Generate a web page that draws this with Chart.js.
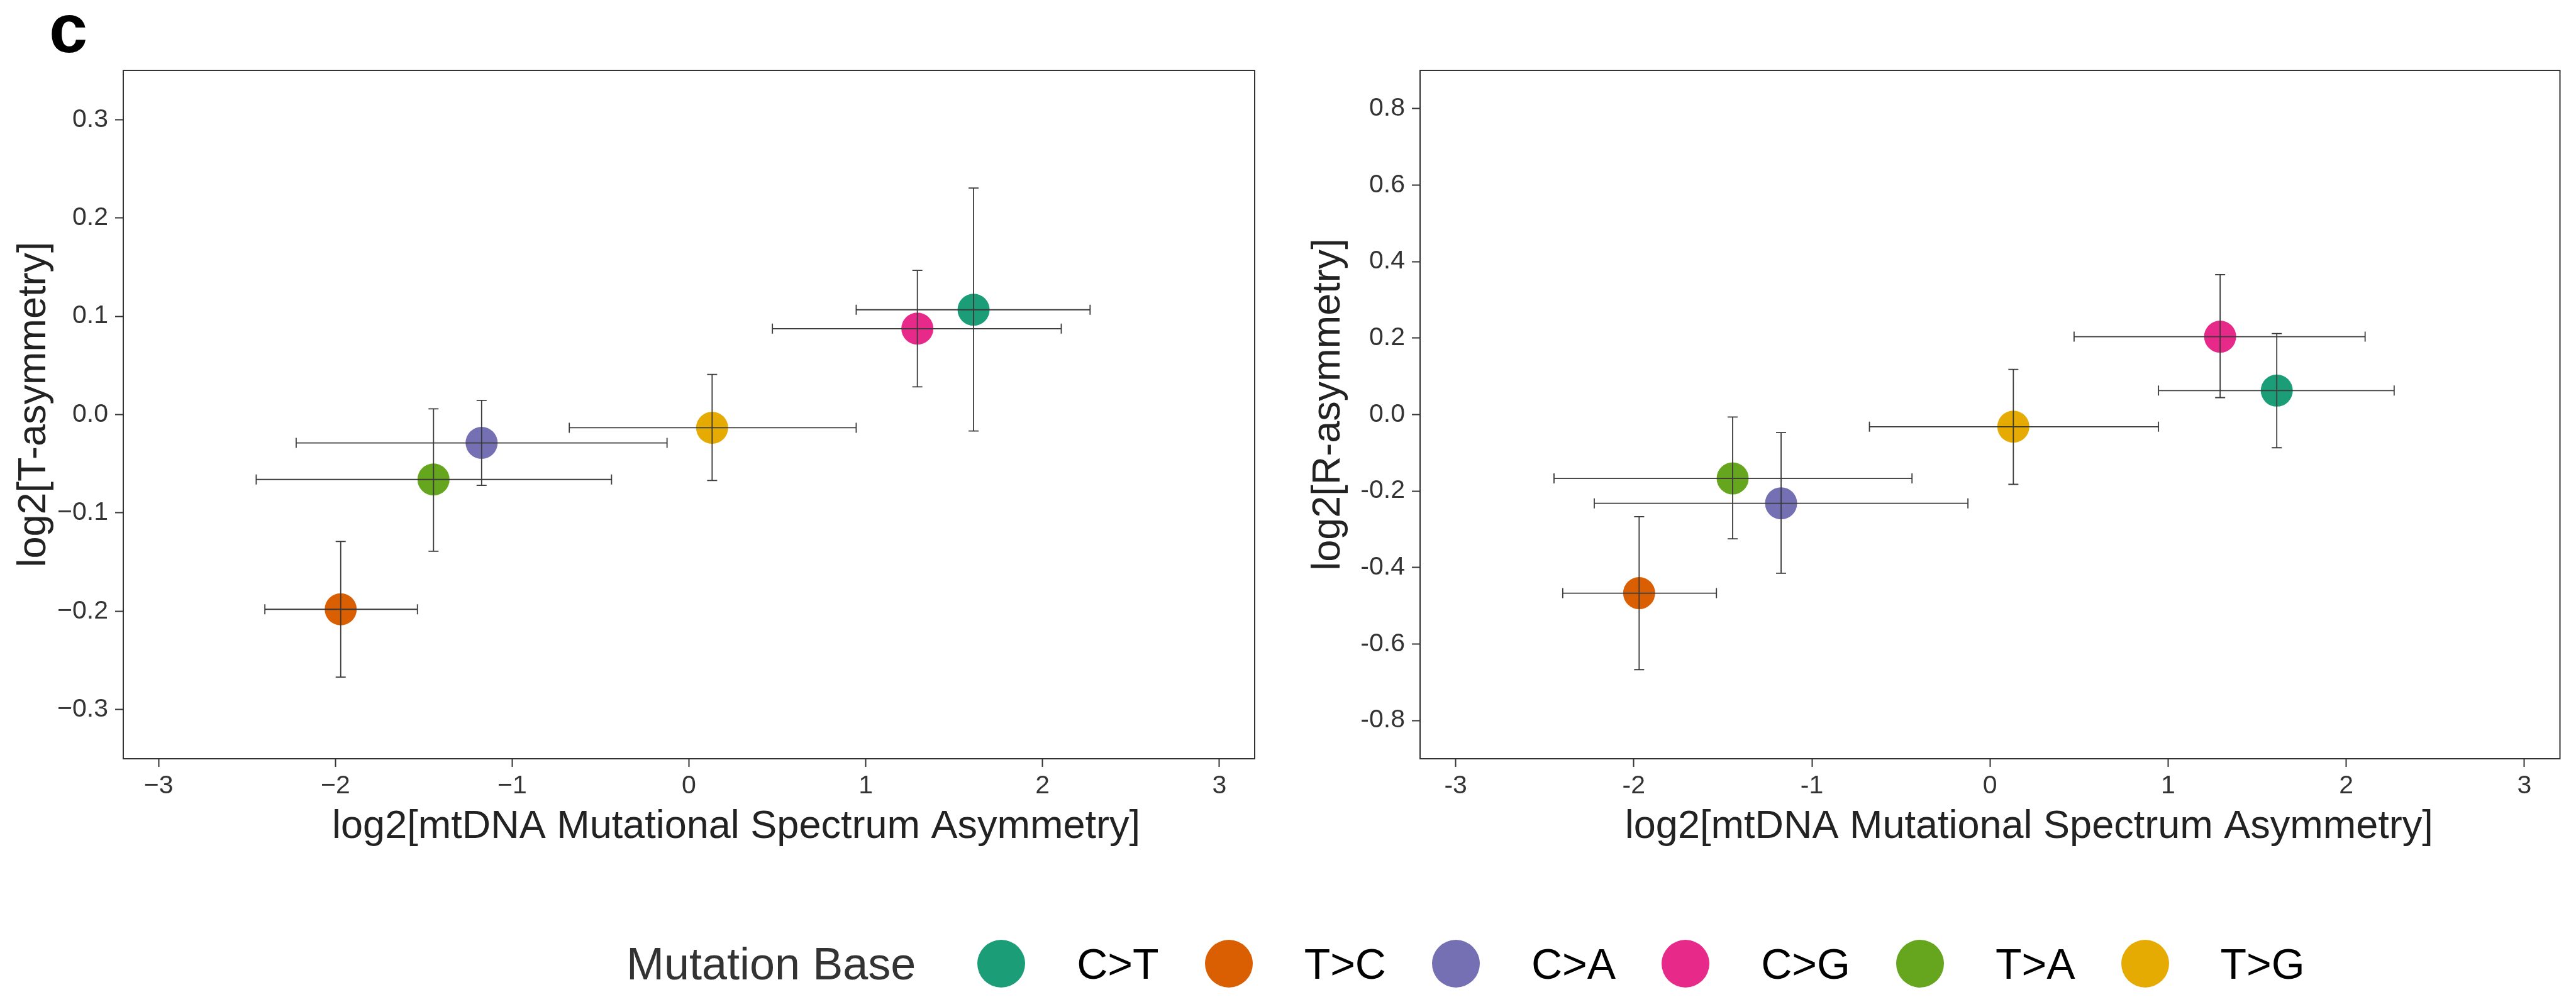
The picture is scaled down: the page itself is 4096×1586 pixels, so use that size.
<!DOCTYPE html>
<html>
<head>
<meta charset="utf-8">
<script src="https://cdn.jsdelivr.net/npm/chart.js@4.4.1/dist/chart.umd.min.js"></script>
<style>
  body { margin: 0; width: 4096px; height: 1586px; background: #fff; position: relative; overflow: hidden;
         font-family: "Liberation Sans", Arial, sans-serif; }
  #tag { position: absolute; left: 78px; top: -10px; font-size: 110px; font-weight: bold; line-height: 1; color: #000; }
  #leftPanel { position: absolute; left: 0; top: 0; }
  #rightPanel { position: absolute; left: 2040px; top: 0; }
  #legend { position: absolute; left: 996px; top: 1493px; height: 80px; display: flex; align-items: center; }
  #legend .title { font-size: 72px; color: #333; margin-right: 98px; white-space: nowrap; }
  #legend .key { width: 76px; height: 76px; border-radius: 50%; margin-right: 82px; flex: none; }
  #legend .lab { font-size: 68px; color: #000; margin-right: 73px; white-space: nowrap; }
</style>
</head>
<body>
<div id="tag">c</div>
<canvas id="leftPanel" width="2030" height="1420"></canvas>
<canvas id="rightPanel" width="2056" height="1420"></canvas>
<div id="legend"></div>

<script>
// mutation types and their colours
var mutTypes = ["C>T", "T>C", "C>A", "C>G", "T>A", "T>G"];
var mutColors = ["#1B9E77", "#D95F02", "#7570B3", "#E7298A", "#66A61E", "#E6AB02"];

// log2 mtDNA mutational spectrum asymmetry (x) with error range
var mtAsym     = [1.610, -1.970, -1.173, 1.292, -1.445, 0.131];
var mtAsymLow  = [0.946, -2.399, -2.222, 0.472, -2.448, -0.677];
var mtAsymHigh = [2.269, -1.536, -0.124, 2.106, -0.438, 0.946];

// log2 T-asymmetry
var tAsym     = [0.1066, -0.1980, -0.0288, 0.0874, -0.0660, -0.0134];
var tAsymLow  = [-0.0167, -0.2670, -0.0720, 0.0282, -0.1390, -0.0671];
var tAsymHigh = [0.2304, -0.1290, 0.0145, 0.1466, 0.0058, 0.0408];

// log2 R-asymmetry
var rAsym     = [0.0627, -0.4670, -0.2320, 0.2037, -0.1670, -0.0317];
var rAsymLow  = [-0.0867, -0.6670, -0.4150, 0.0444, -0.3250, -0.1825];
var rAsymHigh = [0.2120, -0.2670, -0.0470, 0.3660, -0.0063, 0.1180];

// axis ticks
var xTicks = [-3, -2, -1, 0, 1, 2, 3];
var xTickLabelsLeft = ["\u22123", "\u22122", "\u22121", "0", "1", "2", "3"];
var xTickLabelsRight = ["-3", "-2", "-1", "0", "1", "2", "3"];
var tTicks = [-0.3, -0.2, -0.1, 0, 0.1, 0.2, 0.3];
var tTickLabels = ["\u22120.3", "\u22120.2", "\u22120.1", "0.0", "0.1", "0.2", "0.3"];
var rTicks = [-0.8, -0.6, -0.4, -0.2, 0, 0.2, 0.4, 0.6, 0.8];
var rTickLabels = ["-0.8", "-0.6", "-0.4", "-0.2", "0.0", "0.2", "0.4", "0.6", "0.8"];

var xTitle = "log2[mtDNA Mutational Spectrum Asymmetry]";

Chart.defaults.font.family = "'Liberation Sans', Arial, sans-serif";

// draws the error bars, the panel frame and the axis titles
var panelDecor = {
    id: "panelDecor",
    afterDatasetsDraw: function (chart, args, o) {
        var ctx = chart.ctx;
        var xs = chart.scales.x;
        var ys = chart.scales.y;
        var cap = 8;
        ctx.save();
        ctx.strokeStyle = "#3a3a3a";
        ctx.lineWidth = 1.8;
        ctx.beginPath();
        for (var i = 0; i < mtAsym.length; i++) {
            var px = xs.getPixelForValue(mtAsym[i]);
            var py = ys.getPixelForValue(o.y[i]);
            var x1 = xs.getPixelForValue(mtAsymLow[i]);
            var x2 = xs.getPixelForValue(mtAsymHigh[i]);
            var y1 = ys.getPixelForValue(o.low[i]);
            var y2 = ys.getPixelForValue(o.high[i]);
            // horizontal bar
            ctx.moveTo(x1, py); ctx.lineTo(x2, py);
            ctx.moveTo(x1, py - cap); ctx.lineTo(x1, py + cap);
            ctx.moveTo(x2, py - cap); ctx.lineTo(x2, py + cap);
            // vertical bar
            ctx.moveTo(px, y1); ctx.lineTo(px, y2);
            ctx.moveTo(px - cap, y1); ctx.lineTo(px + cap, y1);
            ctx.moveTo(px - cap, y2); ctx.lineTo(px + cap, y2);
        }
        ctx.stroke();
        ctx.restore();
    },
    afterDraw: function (chart, args, o) {
        var ctx = chart.ctx;
        var a = chart.chartArea;
        ctx.save();
        ctx.strokeStyle = "#333";
        ctx.lineWidth = 2;
        ctx.strokeRect(a.left, a.top, a.right - a.left, a.bottom - a.top);

        ctx.fillStyle = "#222";
        ctx.font = "63px 'Liberation Sans', Arial, sans-serif";
        ctx.textAlign = "center";
        ctx.textBaseline = "alphabetic";
        ctx.fillText(xTitle, (a.left + a.right) / 2 + o.xTitleShift, a.bottom + 126);

        ctx.translate(a.left - o.yTitleGap, (a.top + a.bottom) / 2 - 16);
        ctx.rotate(-Math.PI / 2);
        ctx.fillText(o.yTitle, 0, 0);
        ctx.restore();
    }
};

function makePanel(canvasId, yVals, yLow, yHigh, yMin, yMax, yTicks, yLabels, xLabels, decor, axisWidth, padRight) {
    var points = [];
    for (var i = 0; i < mtAsym.length; i++) {
        points.push({ x: mtAsym[i], y: yVals[i] });
    }
    decor.y = yVals;
    decor.low = yLow;
    decor.high = yHigh;

    return new Chart(document.getElementById(canvasId), {
        type: "scatter",
        data: {
            datasets: [{
                data: points,
                pointRadius: 25.5,
                pointBorderWidth: 0,
                pointBackgroundColor: mutColors,
                pointBorderColor: mutColors
            }]
        },
        options: {
            responsive: false,
            animation: false,
            events: [],
            layout: { padding: { top: 112, right: padRight, left: 0, bottom: 0 } },
            plugins: {
                legend: { display: false },
                tooltip: { enabled: false },
                panelDecor: decor
            },
            scales: {
                x: {
                    type: "linear",
                    min: -3.2,
                    max: 3.2,
                    afterBuildTicks: function (s) { s.ticks = xTicks.map(function (v) { return { value: v }; }); },
                    afterFit: function (s) { s.height = 213; },
                    border: { display: false },
                    grid: { drawOnChartArea: false, drawTicks: true, tickLength: 13, tickColor: "#333", tickWidth: 2 },
                    ticks: {
                        padding: 6,
                        maxRotation: 0,
                        autoSkip: false,
                        color: "#333",
                        font: { size: 41 },
                        callback: function (v, i) { return xLabels[i]; }
                    }
                },
                y: {
                    type: "linear",
                    min: yMin,
                    max: yMax,
                    afterBuildTicks: function (s) { s.ticks = yTicks.map(function (v) { return { value: v }; }); },
                    afterFit: function (s) { s.width = axisWidth; },
                    border: { display: false },
                    grid: { drawOnChartArea: false, drawTicks: true, tickLength: 13, tickColor: "#333", tickWidth: 2 },
                    ticks: {
                        padding: 11,
                        autoSkip: false,
                        color: "#333",
                        font: { size: 41 },
                        callback: function (v, i) { return yLabels[i]; }
                    }
                }
            }
        },
        plugins: [panelDecor]
    });
}

makePanel("leftPanel", tAsym, tAsymLow, tAsymHigh, -0.35, 0.35, tTicks, tTickLabels, xTickLabelsLeft,
    { yTitle: "log2[T-asymmetry]", yTitleGap: 124, xTitleShift: 75 }, 196, 35);
makePanel("rightPanel", rAsym, rAsymLow, rAsymHigh, -0.9, 0.9, rTicks, rTickLabels, xTickLabelsRight,
    { yTitle: "log2[R-asymmetry]", yTitleGap: 128, xTitleShift: 62 }, 218, 14);

// shared legend below both panels
var legendBox = document.getElementById("legend");
var legendTitle = document.createElement("span");
legendTitle.className = "title";
legendTitle.textContent = "Mutation Base";
legendBox.append(legendTitle);
for (var i = 0; i < mutTypes.length; i++) {
    var key = document.createElement("span");
    key.className = "key";
    key.style.background = mutColors[i];
    legendBox.append(key);
    var lab = document.createElement("span");
    lab.className = "lab";
    lab.textContent = mutTypes[i];
    legendBox.append(lab);
}
</script>
</body>
</html>
